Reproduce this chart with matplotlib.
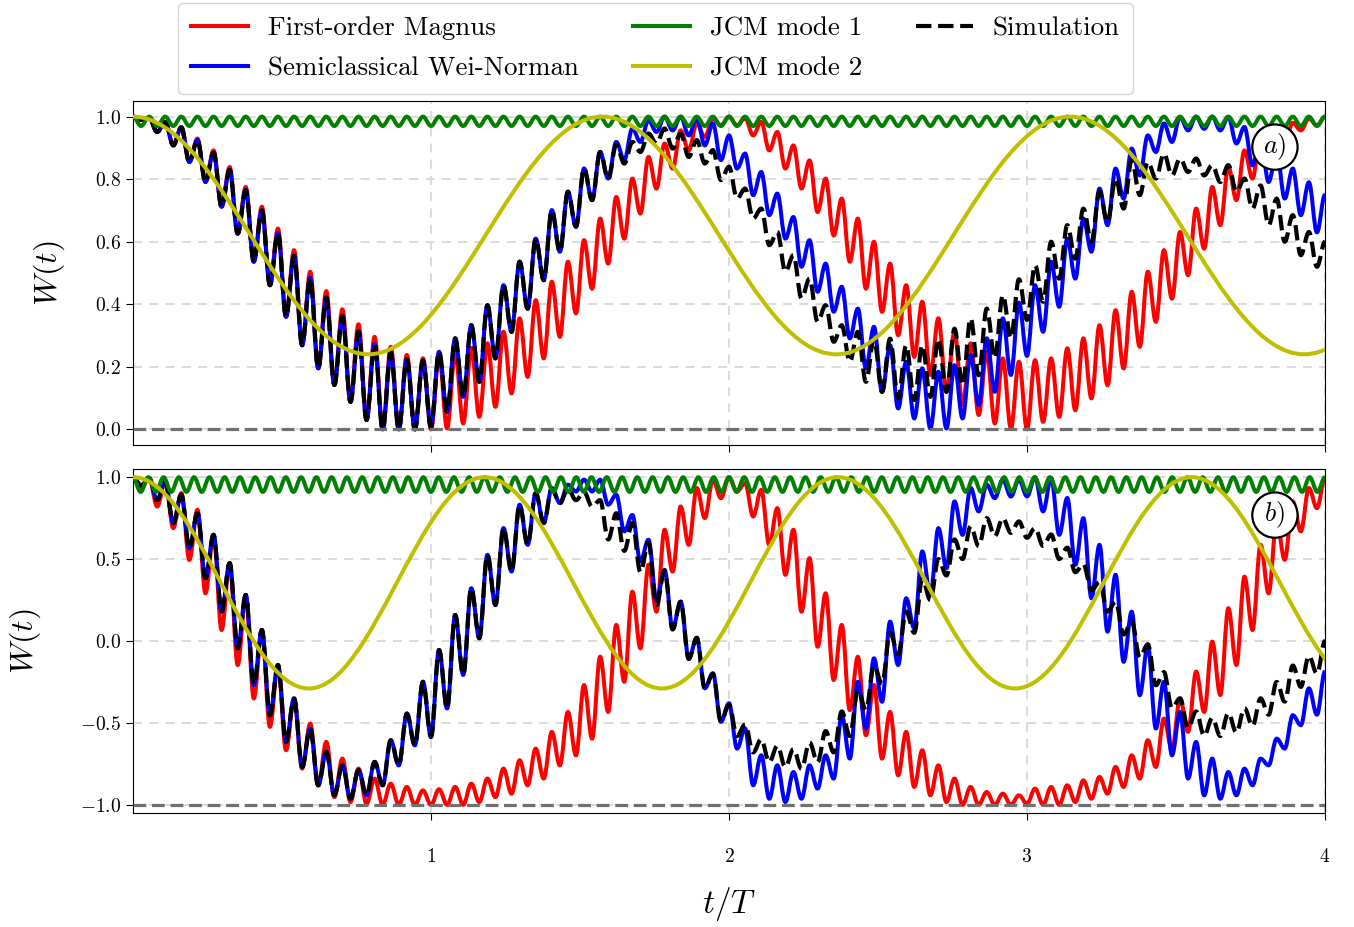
import numpy as np
import matplotlib
matplotlib.use("Agg")
import matplotlib.pyplot as plt
from matplotlib.path import Path
from matplotlib.patches import PathPatch
from matplotlib.lines import Line2D

plt.rcParams['font.family'] = 'serif'
plt.rcParams['font.serif'] = ['cmr10']
plt.rcParams['mathtext.fontset'] = 'cm'
plt.rcParams['axes.formatter.use_mathtext'] = True
plt.rcParams['axes.unicode_minus'] = True

# ---------------- data (extrema of the fast oscillations) -------------
labels = ["First-order Magnus", "Semiclassical Wei-Norman", "JCM mode 1", "JCM mode 2", "Simulation"]
xticks = [1, 2, 3, 4]
yticks_a = [0.0, 0.2, 0.4, 0.6, 0.8, 1.0]
yticks_b = [-1.0, -0.5, 0.0, 0.5, 1.0]

# time grid of successive extrema (peak, trough, peak, ...) over 0..4 T
t_ext = np.linspace(0, 4, 149)

magnus_a = [
    1.0, 0.99, 0.995, 0.951, 0.983, 0.908, 0.967, 0.855, 0.93, 0.791,
    0.892, 0.712, 0.839, 0.626, 0.775, 0.536, 0.712, 0.461, 0.642, 0.36,
    0.573, 0.269, 0.504, 0.195, 0.442, 0.142, 0.384, 0.088, 0.336, 0.03,
    0.296, 0.0, 0.264, 0.0, 0.238, 0.0, 0.227, 0.0, 0.235, 0.003,
    0.245, 0.019, 0.26, 0.04, 0.275, 0.072, 0.312, 0.115, 0.355, 0.168,
    0.413, 0.227, 0.472, 0.296, 0.536, 0.371, 0.605, 0.45, 0.674, 0.53,
    0.743, 0.61, 0.802, 0.69, 0.871, 0.77, 0.914, 0.834, 0.956, 0.892,
    0.978, 0.935, 0.994, 0.972, 1.0, 0.972, 0.995, 0.94, 0.983, 0.892,
    0.951, 0.834, 0.908, 0.77, 0.86, 0.695, 0.802, 0.62, 0.738, 0.536,
    0.674, 0.45, 0.6, 0.376, 0.53, 0.301, 0.461, 0.232, 0.408, 0.174,
    0.355, 0.12, 0.312, 0.078, 0.275, 0.046, 0.248, 0.019, 0.227, 0.003,
    0.216, 0.0, 0.221, 0.024, 0.227, 0.04, 0.259, 0.061, 0.291, 0.099,
    0.333, 0.141, 0.381, 0.195, 0.44, 0.264, 0.504, 0.344, 0.573, 0.418,
    0.631, 0.493, 0.706, 0.578, 0.775, 0.653, 0.839, 0.733, 0.892, 0.802,
    0.94, 0.866, 0.965, 0.92, 0.98, 0.956, 0.994, 0.972, 1.0]

weinorman_a = [
    1.0, 0.99, 0.995, 0.951, 0.983, 0.908, 0.965, 0.855, 0.925, 0.791,
    0.885, 0.712, 0.83, 0.626, 0.765, 0.536, 0.70, 0.461, 0.628, 0.36,
    0.556, 0.269, 0.485, 0.195, 0.422, 0.142, 0.362, 0.088, 0.313, 0.03,
    0.272, 0.0, 0.245, 0.0, 0.225, 0.0, 0.22, 0.008, 0.248, 0.056,
    0.291, 0.104, 0.333, 0.152, 0.397, 0.227, 0.461, 0.312, 0.536, 0.386,
    0.61, 0.477, 0.701, 0.568, 0.76, 0.648, 0.834, 0.733, 0.887, 0.802,
    0.919, 0.861, 0.962, 0.919, 0.988, 0.951, 1.0, 0.956, 1.0, 0.94,
    0.994, 0.908, 0.978, 0.861, 0.94, 0.834, 0.882, 0.749, 0.823, 0.685,
    0.754, 0.61, 0.679, 0.52, 0.605, 0.44, 0.53, 0.376, 0.456, 0.291,
    0.386, 0.195, 0.328, 0.12, 0.269, 0.067, 0.216, 0.035, 0.195, 0.003,
    0.184, 0.003, 0.205, 0.035, 0.237, 0.078, 0.291, 0.12, 0.355, 0.174,
    0.405, 0.235, 0.461, 0.312, 0.536, 0.392, 0.61, 0.482, 0.674, 0.568,
    0.77, 0.653, 0.834, 0.738, 0.898, 0.812, 0.94, 0.887, 0.978, 0.919,
    0.999, 0.956, 1.0, 0.961, 1.0, 0.956, 0.999, 0.914, 0.967, 0.844,
    0.929, 0.791, 0.887, 0.738, 0.834, 0.685, 0.79, 0.63, 0.75]

simulation_a = [
    1.0, 0.99, 0.995, 0.951, 0.983, 0.908, 0.965, 0.855, 0.925, 0.791,
    0.885, 0.712, 0.83, 0.626, 0.765, 0.536, 0.70, 0.461, 0.628, 0.36,
    0.556, 0.269, 0.485, 0.195, 0.422, 0.142, 0.362, 0.088, 0.313, 0.03,
    0.272, 0.0, 0.245, 0.0, 0.225, 0.0, 0.22, 0.008, 0.248, 0.056,
    0.291, 0.104, 0.333, 0.152, 0.397, 0.227, 0.461, 0.312, 0.536, 0.386,
    0.61, 0.477, 0.701, 0.568, 0.76, 0.648, 0.834, 0.733, 0.887, 0.80,
    0.91, 0.85, 0.919, 0.887, 0.946, 0.914, 0.962, 0.898, 0.946, 0.871,
    0.925, 0.85, 0.893, 0.797, 0.84, 0.738, 0.77, 0.674, 0.706, 0.589,
    0.631, 0.504, 0.557, 0.419, 0.482, 0.344, 0.397, 0.28, 0.333, 0.216,
    0.312, 0.152, 0.29, 0.12, 0.29, 0.099, 0.269, 0.094, 0.269, 0.104,
    0.29, 0.12, 0.322, 0.141, 0.355, 0.173, 0.386, 0.227, 0.429, 0.291,
    0.48, 0.35, 0.525, 0.408, 0.6, 0.482, 0.653, 0.546, 0.706, 0.6,
    0.76, 0.663, 0.802, 0.706, 0.861, 0.749, 0.855, 0.802, 0.882, 0.812,
    0.866, 0.823, 0.866, 0.812, 0.845, 0.791, 0.845, 0.76, 0.802, 0.706,
    0.78, 0.653, 0.738, 0.6, 0.685, 0.557, 0.631, 0.52, 0.6]

magnus_b = [
    1.0, 0.93, 0.995, 0.821, 0.974, 0.689, 0.903, 0.495, 0.801, 0.291,
    0.648, 0.067, 0.475, -0.147, 0.281, -0.351, 0.067, -0.524, -0.147, -0.667,
    -0.351, -0.779, -0.504, -0.881, -0.616, -0.953, -0.718, -0.983, -0.779, -0.994,
    -0.84, -1.0, -0.871, -1.0, -0.891, -1.0, -0.912, -1.0, -0.905, -1.0,
    -0.891, -1.0, -0.871, -0.983, -0.84, -0.953, -0.779, -0.932, -0.728, -0.881,
    -0.657, -0.84, -0.555, -0.759, -0.433, -0.698, -0.269, -0.596, -0.096, -0.433,
    0.098, -0.249, 0.301, -0.045, 0.465, 0.179, 0.679, 0.424, 0.821, 0.587,
    0.934, 0.75, 0.985, 0.872, 1.0, 0.913, 0.964, 0.76, 0.923, 0.587,
    0.811, 0.404, 0.679, 0.179, 0.506, -0.035, 0.291, -0.238, 0.098, -0.422,
    -0.096, -0.575, -0.269, -0.718, -0.433, -0.82, -0.555, -0.891, -0.667, -0.942,
    -0.759, -0.983, -0.84, -1.0, -0.891, -1.0, -0.922, -1.0, -0.932, -1.0,
    -0.942, -0.994, -0.901, -1.0, -0.891, -1.0, -0.881, -0.983, -0.851, -0.963,
    -0.83, -0.932, -0.769, -0.891, -0.698, -0.84, -0.606, -0.769, -0.474, -0.667,
    -0.351, -0.555, -0.187, -0.433, -0.004, -0.33, 0.2, -0.147, 0.393, 0.067,
    0.587, 0.291, 0.73, 0.495, 0.852, 0.669, 0.934, 0.811, 0.995]

weinorman_b = [
    1.0, 0.95, 0.995, 0.86, 0.974, 0.72, 0.893, 0.566, 0.781, 0.383,
    0.648, 0.18, 0.475, -0.045, 0.281, -0.269, 0.067, -0.453, -0.147, -0.616,
    -0.351, -0.769, -0.534, -0.881, -0.677, -0.942, -0.759, -0.963, -0.789, -0.942,
    -0.738, -0.881, -0.606, -0.759, -0.443, -0.637, -0.249, -0.585, -0.055, -0.412,
    0.159, -0.207, 0.322, 0.017, 0.526, 0.22, 0.689, 0.424, 0.832, 0.587,
    0.903, 0.72, 0.934, 0.842, 0.954, 0.913, 0.985, 0.913, 0.985, 0.832,
    0.893, 0.669, 0.77, 0.485, 0.618, 0.25, 0.434, 0.077, 0.24, -0.106,
    0.017, -0.289, -0.197, -0.493, -0.38, -0.657, -0.534, -0.881, -0.698, -0.963,
    -0.759, -0.983, -0.8, -0.963, -0.759, -0.901, -0.698, -0.84, -0.453, -0.718,
    -0.249, -0.534, -0.106, -0.371, 0.118, -0.147, 0.261, 0.077, 0.547, 0.281,
    0.689, 0.444, 0.852, 0.648, 0.934, 0.791, 0.954, 0.872, 0.985, 0.882,
    0.985, 0.883, 1.0, 0.791, 0.995, 0.648, 0.873, 0.465, 0.75, 0.261,
    0.587, 0.057, 0.404, -0.127, 0.179, -0.331, -0.025, -0.534, -0.249, -0.698,
    -0.433, -0.84, -0.616, -0.942, -0.718, -0.963, -0.8, -0.942, -0.779, -0.881,
    -0.718, -0.759, -0.596, -0.657, -0.453, -0.514, -0.289, -0.45, -0.187]

simulation_b = [
    1.0, 0.95, 0.995, 0.86, 0.974, 0.72, 0.893, 0.566, 0.781, 0.383,
    0.648, 0.18, 0.475, -0.045, 0.281, -0.269, 0.067, -0.453, -0.147, -0.616,
    -0.351, -0.769, -0.534, -0.881, -0.677, -0.942, -0.759, -0.963, -0.789, -0.942,
    -0.738, -0.881, -0.606, -0.759, -0.443, -0.637, -0.249, -0.585, -0.055, -0.412,
    0.159, -0.207, 0.322, 0.017, 0.526, 0.22, 0.689, 0.424, 0.832, 0.587,
    0.903, 0.72, 0.93, 0.84, 0.93, 0.86, 0.91, 0.82, 0.86, 0.62,
    0.78, 0.55, 0.72, 0.42, 0.6, 0.22, 0.43, 0.07, 0.24, -0.11,
    0.02, -0.29, -0.2, -0.49, -0.39, -0.58, -0.51, -0.68, -0.6, -0.74,
    -0.64, -0.77, -0.66, -0.78, -0.62, -0.74, -0.55, -0.68, -0.43, -0.58,
    -0.3, -0.42, -0.15, -0.26, 0.05, -0.08, 0.18, 0.05, 0.38, 0.25,
    0.5, 0.4, 0.62, 0.5, 0.7, 0.58, 0.75, 0.64, 0.75, 0.66,
    0.73, 0.63, 0.69, 0.58, 0.65, 0.5, 0.57, 0.42, 0.47, 0.31,
    0.36, 0.18, 0.24, 0.04, 0.12, -0.1, -0.02, -0.27, -0.19, -0.41,
    -0.35, -0.53, -0.43, -0.58, -0.47, -0.58, -0.44, -0.56, -0.41, -0.52,
    -0.35, -0.45, -0.25, -0.37, -0.15, -0.28, -0.09, -0.2, 0.0]

# JCM mode 1: small fast oscillation just below 1
jcm1_t_a = np.linspace(0, 4, 149)
jcm1_a = [1.0, 0.97] * 74 + [1.0]
jcm1_t_b = np.linspace(0, 4, 157)
jcm1_b = [1.0, 0.91] * 78 + [1.0]

# JCM mode 2: slow oscillation, extrema (times, values)
jcm2_t_a = [0.0, 0.79, 1.575, 2.36, 3.145, 3.93, 4.715]
jcm2_a = [1.0, 0.24, 1.0, 0.24, 1.0, 0.24, 1.0]
jcm2_t_b = [0.0, 0.59, 1.18, 1.775, 2.366, 2.96, 3.553, 4.145]
jcm2_b = [1.0, -0.29, 1.0, -0.29, 1.0, -0.29, 1.0, -0.29]

baseline_a = 0.0
baseline_b = -1.0

# ---------------- drawing ----------------
colors = ['red', 'blue', 'green', '#bfbf00', 'black']


def extrema_path(t, w):
    t = np.asarray(t, float)
    w = np.asarray(w, float)
    h = 0.3642 * np.diff(t)
    verts = [(t[0], w[0])]
    codes = [Path.MOVETO]
    for i in range(len(t) - 1):
        verts += [(t[i] + h[i], w[i]), (t[i + 1] - h[i], w[i + 1]), (t[i + 1], w[i + 1])]
        codes += [Path.CURVE4] * 3
    return Path(verts, codes)


def draw(ax, t, w, color, ls='-', lw=2.9, z=2):
    ax.add_patch(PathPatch(extrema_path(t, w), fill=False, edgecolor=color,
                           linewidth=lw, linestyle=ls, joinstyle='round', zorder=z))


fig = plt.figure(figsize=(13.54, 9.27), dpi=100)
ax_a = fig.add_axes([0.09823, 0.51996, 0.88035, 0.37109])
ax_b = fig.add_axes([0.09823, 0.12298, 0.88035, 0.37109])

panels = [
    (ax_a, magnus_a, weinorman_a, simulation_a, jcm1_t_a, jcm1_a, jcm2_t_a, jcm2_a,
     baseline_a, (-0.05, 1.05), yticks_a, '$a)$', 20),
    (ax_b, magnus_b, weinorman_b, simulation_b, jcm1_t_b, jcm1_b, jcm2_t_b, jcm2_b,
     baseline_b, (-1.05, 1.05), yticks_b, '$b)$', 27),
]

for (ax, mag, wn, sim, g_t, g, y_t, y, base, ylim, yt, tag, lpad) in panels:
    ax.set_axisbelow(True)
    ax.grid(True, linestyle=(0, (5, 4)), color='#d8d8d8', linewidth=1.3)
    draw(ax, t_ext, mag, colors[0], z=2)
    draw(ax, t_ext, wn, colors[1], z=3)
    draw(ax, t_ext, sim, colors[4], ls='--', lw=3.0, z=4)
    draw(ax, g_t, g, colors[2], z=5)
    draw(ax, y_t, y, colors[3], z=6)
    ax.axhline(base, color='#707070', linestyle=(0, (4, 1.8)), linewidth=2.3, zorder=7)
    ax.set_xlim(0, 4)
    ax.set_ylim(*ylim)
    ax.set_xticks(xticks)
    ax.set_yticks(yt)
    ax.tick_params(labelsize=14, length=5)
    ax.set_ylabel('$W(t)$', fontsize=23, labelpad=lpad)
    ax.text(0.958, 0.866, tag, transform=ax.transAxes, fontsize=19,
            ha='center', va='center', zorder=10,
            bbox=dict(boxstyle='circle,pad=0.28', fc='white', ec='black', lw=1.6))

ax_a.tick_params(labelbottom=False)
ax_b.tick_params(axis='x', pad=20)
ax_b.set_xlabel('$t/T$', fontsize=24, labelpad=14)

handles = [
    Line2D([], [], color=colors[0], lw=2.9),
    Line2D([], [], color=colors[1], lw=2.9),
    Line2D([], [], color=colors[2], lw=2.9),
    Line2D([], [], color=colors[3], lw=2.9),
    Line2D([], [], color=colors[4], lw=3.0, linestyle='--'),
]
fig.legend(handles, labels, loc='upper left', bbox_to_anchor=(178 / 1354, 1 - 3 / 927),
           borderaxespad=0, ncol=3, fontsize=19.4, handlelength=2.1, columnspacing=2.0,
           labelspacing=0.62, borderpad=0.5, handletextpad=0.75,
           frameon=True, fancybox=True, edgecolor='0.8')

fig.savefig('out.png', dpi=100)
